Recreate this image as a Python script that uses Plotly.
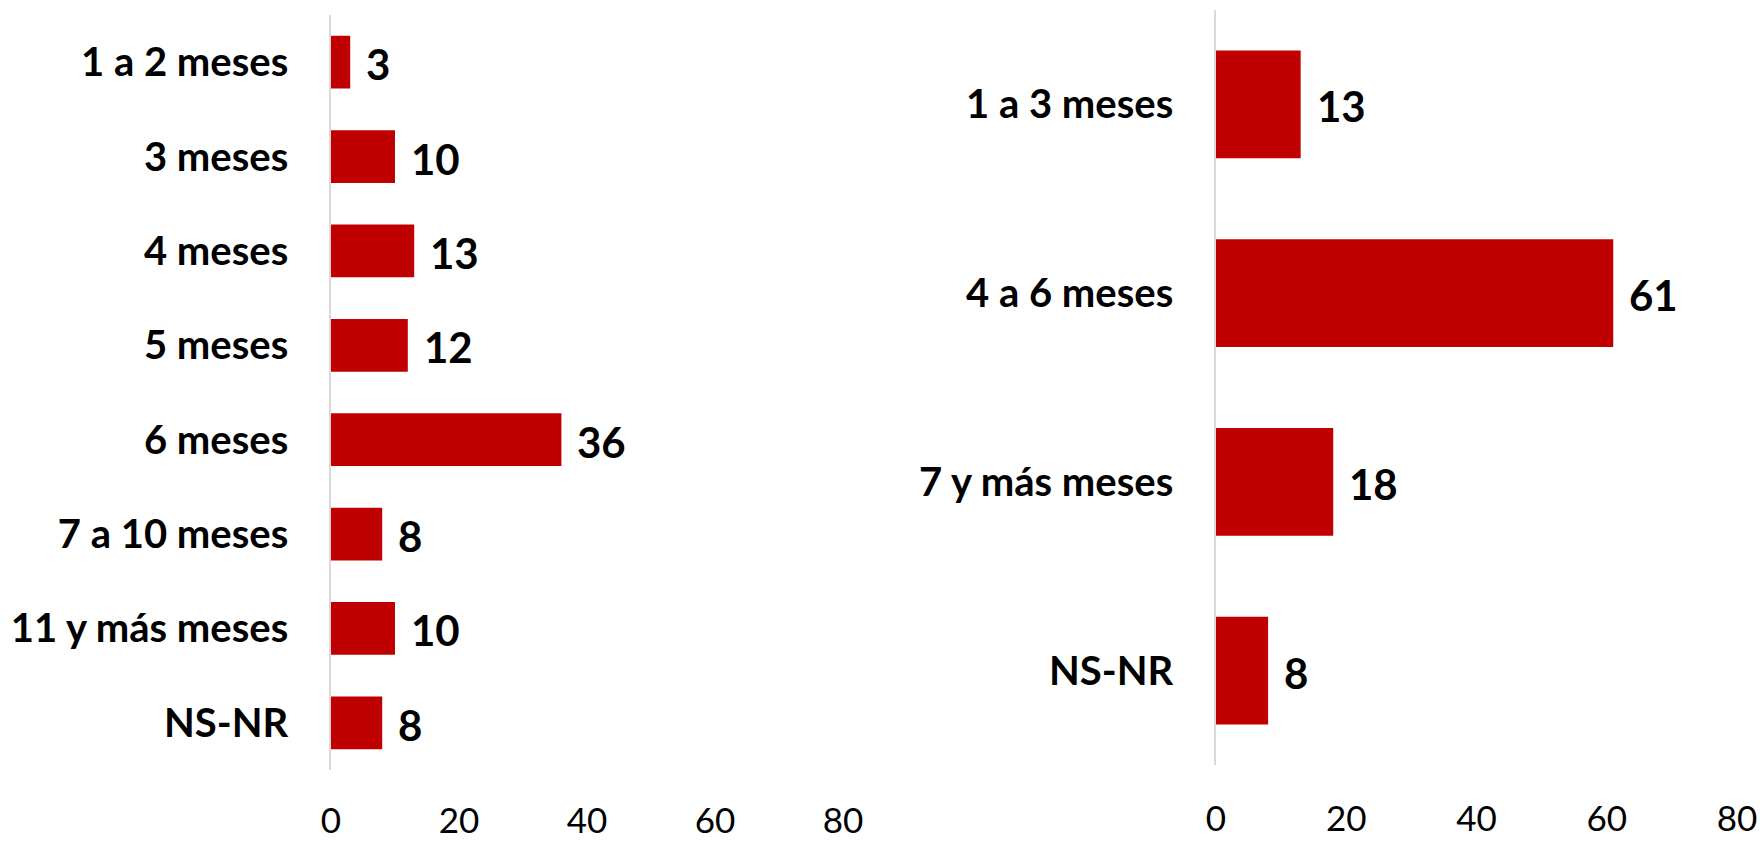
import plotly.graph_objects as go

# Left chart data
left_categories = ["1 a 2 meses", "3 meses", "4 meses", "5 meses", "6 meses",
                   "7 a 10 meses", "11 y más meses", "NS-NR"]
left_values = [3, 10, 13, 12, 36, 8, 10, 8]

# Right chart data
right_categories = ["1 a 3 meses", "4 a 6 meses", "7 y más meses", "NS-NR"]
right_values = [13, 61, 18, 8]

x_ticks = [0, 20, 40, 60, 80]

BAR = "#C00000"
FONT = "Lato"
W, H = 1760, 841


def xd(a, b):
    return [a / W, b / W]


def yd(top, bottom):
    return [1 - bottom / H, 1 - top / H]


fig = go.Figure()
fig.add_trace(go.Bar(x=left_values, y=left_categories, orientation="h",
                     marker=dict(color=BAR, line=dict(width=0)), width=0.56,
                     xaxis="x", yaxis="y", showlegend=False, hoverinfo="x+y"))
fig.add_trace(go.Bar(x=right_values, y=right_categories, orientation="h",
                     marker=dict(color=BAR, line=dict(width=0)), width=0.57,
                     xaxis="x2", yaxis="y2", showlegend=False, hoverinfo="x+y"))

annotations = []
for c, v in zip(left_categories, left_values):
    annotations.append(dict(x=v, y=c, xref="x", yref="y", text=str(v), showarrow=False,
                            xanchor="left", yanchor="middle", xshift=14, yshift=-2,
                            font=dict(family=FONT, size=42, color="#000000", weight="bold")))
for c, v in zip(right_categories, right_values):
    annotations.append(dict(x=v, y=c, xref="x2", yref="y2", text=str(v), showarrow=False,
                            xanchor="left", yanchor="middle", xshift=14, yshift=-2,
                            font=dict(family=FONT, size=42, color="#000000", weight="bold")))

xcommon = dict(range=[0, 80], tickvals=x_ticks, showgrid=False, zeroline=False,
               showline=False, ticks="", automargin=False,
               tickfont=dict(family=FONT, size=35, color="#000000"), fixedrange=True)
ycommon = dict(showgrid=False, zeroline=False, showline=True, linecolor="#D9D9D9",
               linewidth=1.5, ticks="", ticklabelstandoff=33, automargin=False,
               tickfont=dict(family=FONT, size=40, color="#000000", weight="bold"),
               fixedrange=True)

fig.update_layout(
    width=W, height=H,
    margin=dict(l=0, r=0, t=0, b=0),
    paper_bgcolor="white", plot_bgcolor="white",
    xaxis=dict(domain=xd(331, 843), anchor="y", ticklabelstandoff=27, **xcommon),
    yaxis=dict(domain=yd(15, 770), anchor="x",
               range=[len(left_categories) - 0.5, -0.5],
               categoryorder="array", categoryarray=left_categories, **ycommon),
    xaxis2=dict(domain=xd(1216, 1737), anchor="y2", ticklabelstandoff=30, **xcommon),
    yaxis2=dict(domain=yd(10, 765), anchor="x2",
                range=[len(right_categories) - 0.5, -0.5],
                categoryorder="array", categoryarray=right_categories, **ycommon),
    annotations=annotations,
)

fig.write_html(
    "out.html",
    config={"displayModeBar": False},
    post_script="document.body.style.margin='0';document.body.style.overflow='hidden';",
)
